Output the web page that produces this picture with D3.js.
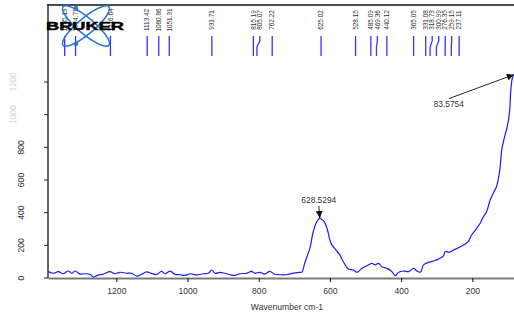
<!DOCTYPE html>
<html>
<head>
<meta charset="utf-8">
<script src="https://cdn.jsdelivr.net/npm/d3@7"></script>
<style>
    body { margin: 0; background: #fff; }
    svg text { font-family: "Liberation Sans", Arial, sans-serif; fill: #333; }
</style>
</head>
<body>
<div id="chart"></div>
<script>
// spectrum (wavenumber cm-1 / intensity)
var wavenumbers = [1391, 1377, 1363, 1349, 1335, 1325, 1316, 1302, 1288, 1274, 1265, 1251, 1237, 1218, 1204,
    1190, 1171, 1157, 1143, 1129, 1115, 1101, 1087, 1073, 1063, 1049, 1035, 1021, 1007, 992, 974, 956, 942,
    932, 923, 909, 895, 881, 867, 853, 834, 820, 811, 797, 783, 769, 755, 741, 722, 703, 685, 679, 671, 662,
    656, 648, 639, 632, 628.5, 625, 616, 607, 597, 583, 572, 565, 548, 534, 524, 510, 496, 482, 473, 463,
    454, 440, 426, 417, 407, 393, 379, 365, 356, 346, 337, 323, 309, 296, 281, 277, 263, 253, 239, 225, 211,
    202, 188, 178, 169, 160, 150, 141, 132, 123, 117, 110, 104, 99, 95, 92, 88, 83.6];
var intensities = [39, 29, 39, 26, 43, 29, 43, 24, 26, 23, 6, 18, 23, 39, 26,
    35, 29, 29, 12, 23, 37, 28, 22, 40, 26, 42, 22, 20, 16, 26, 19, 26, 29,
    49, 29, 35, 29, 20, 16, 26, 29, 40, 29, 35, 24, 40, 23, 20, 20, 30, 35, 36, 90, 146,
    185, 274, 335, 360, 368, 362, 345, 294, 212, 171, 140, 110, 55, 49, 35, 59, 75, 90, 80, 90,
    69, 59, 39, 14, 35, 43, 39, 59, 43, 35, 80, 96, 104, 115, 135, 161, 158, 171, 185, 202, 225,
    263, 304, 335, 375, 406, 478, 520, 560, 661, 790, 860, 910, 960, 1030, 1150, 1220, 1245];

var peakLabels = ["1345.19", "1314.71", "1216.64", "1113.42", "1080.86", "1051.31", "931.71", "815.19",
    "805.07", "762.22", "625.02", "528.15", "485.09", "469.36", "440.12", "365.05", "331.08", "318.73",
    "300.99", "276.35", "259.15", "237.11"];
var annotations = [628.5294, 83.5754];

var xTicks = [1200, 1000, 800, 600, 400, 200];
var yTicks = [0, 200, 400, 600, 800];
var yTicksFaint = [1000, 1200];

var width = 514;
var height = 313;
var margin = { left: 48, right: 0, top: 5, bottom: 35 };

var svg = d3.select("#chart").
    append("svg").
    attr("width", width).
    attr("height", height);

var xScale = d3.scaleLinear().
    domain([1392, 83]).
    range([margin.left, width - margin.right]);

var yScale = d3.scaleLinear().
    domain([0, 1200]).
    range([height - margin.bottom, 82]);

var y0 = yScale(0);

// arrow heads
svg.append("defs").append("marker").
    attr("id", "arrow").
    attr("viewBox", "0 0 10 10").
    attr("refX", 10).
    attr("refY", 5).
    attr("markerUnits", "userSpaceOnUse").
    attr("markerWidth", 8).
    attr("markerHeight", 7).
    attr("orient", "auto").
    append("path").
    attr("d", "M0,0 L10,5 L0,10 Z").
    attr("fill", "#111");

// x axis
var xAxis = d3.axisBottom(xScale).
    tickValues(xTicks).
    tickSize(4).
    tickSizeOuter(0).
    tickPadding(6).
    tickFormat(d3.format("d"));

var gx = svg.append("g").
    attr("transform", "translate(0," + y0 + ")").
    call(xAxis);
gx.select(".domain").attr("stroke", "#7a7a7a").attr("stroke-width", 2.2);
gx.selectAll(".tick line").attr("stroke", "#111");
gx.selectAll(".tick text").
    style("font-size", "8.6px").
    style("font-family", "'Liberation Sans', Arial, sans-serif").
    attr("fill", "#333");

svg.append("text").
    attr("x", 287).
    attr("y", 310).
    attr("text-anchor", "middle").
    style("font-size", "8.6px").
    text("Wavenumber cm-1");

// y axis: line runs the full height, labels are rotated
svg.append("line").
    attr("x1", margin.left).
    attr("x2", margin.left).
    attr("y1", margin.top).
    attr("y2", y0).
    attr("stroke", "#333").
    attr("stroke-width", 1.5);

svg.append("line").
    attr("x1", margin.left - 1).
    attr("x2", width).
    attr("y1", margin.top).
    attr("y2", margin.top).
    attr("stroke", "#111").
    attr("stroke-width", 1.5);

svg.selectAll(".ytick").
    data(yTicks.concat(yTicksFaint)).
    enter().
    append("line").
    attr("x1", margin.left - 4).
    attr("x2", margin.left).
    attr("y1", function (d) { return yScale(d); }).
    attr("y2", function (d) { return yScale(d); }).
    attr("stroke", "#222");

svg.selectAll(".ylabel").
    data(yTicks).
    enter().
    append("text").
    attr("transform", function (d) {
        return "translate(21," + yScale(d) + ") rotate(-90)";
    }).
    attr("text-anchor", "middle").
    attr("dy", "0.35em").
    style("font-size", "8.6px").
    text(function (d) { return d; });

// the two upper labels are almost washed out in the original
svg.selectAll(".ylabelfaint").
    data(yTicksFaint).
    enter().
    append("text").
    attr("transform", function (d) {
        return "translate(13," + yScale(d) + ") rotate(-90)";
    }).
    attr("text-anchor", "middle").
    attr("dy", "0.35em").
    style("font-size", "8.6px").
    style("fill", "#d4d4d4").
    text(function (d) { return d; });

// spectrum
var line = d3.line().
    x(function (d, i) { return xScale(wavenumbers[i]); }).
    y(function (d) { return yScale(d); }).
    curve(d3.curveCatmullRom);

svg.append("path").
    datum(intensities).
    attr("d", line).
    attr("fill", "none").
    attr("stroke", "#1a1aff").
    attr("stroke-width", 1.2);

// peak annotations
function intensityAt(w) {
    var i = d3.minIndex(wavenumbers, function (v) { return Math.abs(v - w); });
    return intensities[i];
}

var annOffsets = [[-1, -16], [-65, 29]];
annotations.forEach(function (w, i) {
    var tx = xScale(w);
    var ty = yScale(intensityAt(w));
    var lx = tx + annOffsets[i][0];
    var ly = ty + annOffsets[i][1];
    svg.append("line").
        attr("x1", lx).
        attr("y1", ly + (i == 0 ? 4 : -5)).
        attr("x2", tx).
        attr("y2", ty).
        attr("stroke", "#111").
        attr("stroke-width", 0.9).
        attr("marker-end", "url(#arrow)");
    svg.append("text").
        attr("x", lx).
        attr("y", ly + (i == 0 ? 1 : 3)).
        attr("text-anchor", "middle").
        style("font-size", "8.4px").
        text(w.toFixed(4));
});

// peak picking markers along the top
var peaks = peakLabels.map(function (s) {
    return { label: s, x: xScale(+s) };
}).sort(function (a, b) { return a.x - b.x; });

var gap = 6.5;
peaks.forEach(function (p, i) {
    p.lx = i ? Math.max(p.x, peaks[i - 1].lx + gap) : p.x;
});

svg.selectAll(".pline").
    data(peaks).
    enter().
    append("path").
    attr("d", function (p) {
        return "M" + p.lx + ",36 L" + p.lx + ",41 L" + p.x + ",47 L" + p.x + ",56";
    }).
    attr("fill", "none").
    attr("stroke", "#3535ff").
    attr("stroke-width", 1.3);

svg.selectAll(".plabel").
    data(peaks).
    enter().
    append("text").
    attr("transform", function (p) {
        return "translate(" + p.lx + ",20) rotate(-90)";
    }).
    attr("text-anchor", "middle").
    attr("dy", "0.35em").
    style("font-size", "6.4px").
    text(function (p) { return p.label; });

// logo
var logo = svg.append("g");
[40, -40].forEach(function (a) {
    logo.append("ellipse").
        attr("cx", 86).
        attr("cy", 26).
        attr("rx", 30).
        attr("ry", 8).
        attr("transform", "rotate(" + a + ",86,26)").
        attr("fill", "none").
        attr("stroke", "#2a7ad6").
        attr("stroke-width", 1.6);
});
[8, 44].forEach(function (cy) {
    logo.append("circle").
        attr("cx", 76).
        attr("cy", cy).
        attr("r", 2.2).
        attr("fill", "#2a7ad6");
});
logo.append("text").
    attr("x", 46).
    attr("y", 30).
    attr("textLength", 78).
    attr("lengthAdjust", "spacingAndGlyphs").
    style("font-size", "10.5px").
    style("font-weight", "900").
    style("fill", "#000").
    style("stroke", "#000").
    style("stroke-width", 0.4).
    text("BRUKER");
</script>
</body>
</html>
